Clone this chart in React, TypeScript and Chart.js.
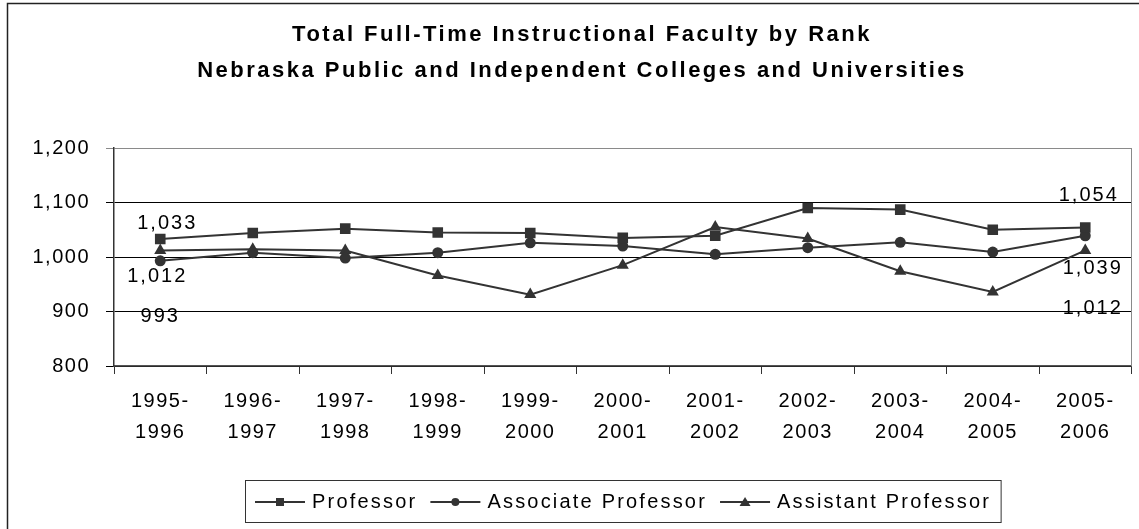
import React, { useEffect, useRef } from 'react';
import { Chart, registerables } from 'chart.js';

Chart.register(...registerables);

const titleLines = [
  'Total Full-Time Instructional Faculty by Rank',
  'Nebraska Public and Independent Colleges and Universities',
];
const categories = [
  ['1995-', '1996'], ['1996-', '1997'], ['1997-', '1998'], ['1998-', '1999'],
  ['1999-', '2000'], ['2000-', '2001'], ['2001-', '2002'], ['2002-', '2003'],
  ['2003-', '2004'], ['2004-', '2005'], ['2005-', '2006'],
];
const seriesNames = ['Professor', 'Associate Professor', 'Assistant Professor'];
const professor = [1033, 1044, 1052, 1045, 1044, 1035, 1039, 1090, 1087, 1050, 1054];
const associate = [993, 1008, 998, 1008, 1026, 1020, 1005, 1017, 1027, 1009, 1039];
const assistant = [1012, 1014, 1012, 966, 931, 985, 1055, 1034, 974, 936, 1012];
const yMin = 800;
const yMax = 1200;
const yStep = 100;
const labelledPoints = [0, 10];

// presentation
const FONT = '"Liberation Sans", Arial, sans-serif';
const INK = '#333333';
const pointStyles = ['rect', 'circle', 'triangle'];
const pointRadii = [7.5, 5.5, 7];
const labelOffsets = [
  [[7, -16], [3.5, -32]],
  [[0, 56], [7.5, 33]],
  [[-3, 26], [7.5, 58]],
];
const TICK_SPACING = '1.5px';

const fmt = (v: number) => v.toLocaleString('en-US');

function setSpacing(chart: any) {
  try { chart.ctx.letterSpacing = TICK_SPACING; } catch (e) { /* ignore */ }
}

const spacingPlugin = {
  id: 'spacing',
  beforeInit: setSpacing,
  beforeUpdate: setSpacing,
  beforeLayout: setSpacing,
  beforeDraw: setSpacing,
  resize: setSpacing,
};

const framePlugin = {
  id: 'frame',
  beforeDraw(chart: any) {
    const ctx = chart.ctx;
    ctx.save();
    ctx.fillStyle = '#ffffff';
    ctx.fillRect(0, 0, chart.width, chart.height);
    ctx.strokeStyle = '#222222';
    ctx.lineWidth = 1.5;
    ctx.strokeRect(7.5, 3.5, chart.width + 50, chart.height + 50);
    ctx.restore();
  },
  afterDatasetsDraw(chart: any) {
    const ctx = chart.ctx;
    const a = chart.chartArea;
    ctx.save();
    ctx.strokeStyle = '#8a8a8a';
    ctx.lineWidth = 1;
    ctx.beginPath();
    ctx.moveTo(Math.round(a.right) - 0.5, a.top);
    ctx.lineTo(Math.round(a.right) - 0.5, a.bottom);
    ctx.stroke();
    ctx.restore();
  },
};

const titlePlugin = {
  id: 'boxTitle',
  afterDraw(chart: any) {
    const ctx = chart.ctx;
    ctx.save();
    try { ctx.letterSpacing = '2.5px'; } catch (e) { /* ignore */ }
    ctx.font = `bold 22px ${FONT}`;
    ctx.fillStyle = '#000000';
    ctx.textAlign = 'center';
    ctx.textBaseline = 'middle';
    const cx = 582;
    titleLines.forEach((line, i) => {
      ctx.fillText(line, cx, 35 + i * 36);
    });
    ctx.restore();
  },
};

const dataLabelPlugin = {
  id: 'dataLabels',
  afterDatasetsDraw(chart: any) {
    const ctx = chart.ctx;
    ctx.save();
    try { ctx.letterSpacing = '2px'; } catch (e) { /* ignore */ }
    ctx.font = `20px ${FONT}`;
    ctx.fillStyle = '#000000';
    ctx.textAlign = 'center';
    ctx.textBaseline = 'middle';
    chart.data.datasets.forEach((ds: any, di: number) => {
      const meta = chart.getDatasetMeta(di);
      labelledPoints.forEach((idx, k) => {
        const el = meta.data[idx];
        if (!el) return;
        const [dx, dy] = labelOffsets[di][k];
        ctx.fillText(fmt(ds.data[idx]), el.x + dx, el.y + dy);
      });
    });
    ctx.restore();
  },
};

function drawMarker(ctx: CanvasRenderingContext2D, style: string, x: number, y: number) {
  ctx.beginPath();
  if (style === 'rect') {
    ctx.rect(x - 4, y - 4, 8, 8);
  } else if (style === 'circle') {
    ctx.arc(x, y, 4, 0, Math.PI * 2);
  } else {
    ctx.moveTo(x, y - 5);
    ctx.lineTo(x + 5.5, y + 4);
    ctx.lineTo(x - 5.5, y + 4);
    ctx.closePath();
  }
  ctx.fill();
}

const legendPlugin = {
  id: 'boxLegend',
  afterDraw(chart: any) {
    const ctx = chart.ctx;
    ctx.save();
    try { ctx.letterSpacing = '2.2px'; } catch (e) { /* ignore */ }
    ctx.font = `20px ${FONT}`;
    const top = 480.5;
    const h = 42;
    const cy = top + h / 2 + 0.5;
    const left = 245.5;
    let x = left + 9.5;
    chart.data.datasets.forEach((ds: any, i: number) => {
      ctx.strokeStyle = INK;
      ctx.lineWidth = 2;
      ctx.beginPath();
      ctx.moveTo(x, cy);
      ctx.lineTo(x + 50, cy);
      ctx.stroke();
      ctx.fillStyle = INK;
      drawMarker(ctx, pointStyles[i], x + 25, cy);
      x += 57;
      ctx.fillStyle = '#000000';
      ctx.textAlign = 'left';
      ctx.textBaseline = 'middle';
      ctx.fillText(ds.label, x, cy);
      x += ctx.measureText(ds.label).width + 13;
    });
    const right = x - 3;
    ctx.strokeStyle = INK;
    ctx.lineWidth = 1;
    ctx.strokeRect(left, top, right - left, h);
    ctx.restore();
  },
};

export default function App() {
  const ref = useRef<HTMLCanvasElement>(null);
  useEffect(() => {
    if (!ref.current) return;
    const seriesData = [professor, associate, assistant];
    const chart = new Chart(ref.current, {
      type: 'line',
      data: {
        labels: categories as any,
        datasets: seriesNames.map((name, i) => ({
          label: name,
          data: seriesData[i],
          borderColor: INK,
          backgroundColor: INK,
          borderWidth: 2,
          pointStyle: pointStyles[i] as any,
          pointRadius: pointRadii[i],
          pointBackgroundColor: INK,
          pointBorderColor: INK,
          pointBorderWidth: 0,
          tension: 0,
          fill: false,
        })),
      },
      options: {
        responsive: false,
        animation: false,
        events: [],
        layout: { padding: { left: 0, right: 2, top: 148, bottom: 0 } },
        plugins: {
          legend: { display: false },
          tooltip: { enabled: false },
          title: { display: false },
        },
        scales: {
          x: {
            type: 'category',
            offset: true,
            grid: {
              display: true,
              offset: true,
              drawOnChartArea: false,
              drawTicks: true,
              tickLength: 8,
              color: INK,
              lineWidth: 1,
            },
            border: { display: true, color: '#555555', width: 1.5 },
            ticks: {
              color: '#000000',
              font: { family: FONT, size: 20, lineHeight: 1.55 },
              padding: 12,
              maxRotation: 0,
              autoSkip: false,
            },
            afterFit(scale: any) { scale.height = 163; },
          },
          y: {
            min: yMin,
            max: yMax,
            ticks: {
              stepSize: yStep,
              color: '#000000',
              font: { family: FONT, size: 20 },
              padding: 16,
              callback: (v: any) => fmt(Number(v)),
            },
            grid: {
              color: (c: any) => (c.tick && c.tick.value === yMax ? '#8a8a8a' : '#000000'),
              lineWidth: 1,
              tickLength: 8,
              drawTicks: true,
            },
            border: { display: true, color: INK, width: 1.5 },
            afterFit(scale: any) { scale.width = 114; },
          },
        },
      },
      plugins: [spacingPlugin, framePlugin, dataLabelPlugin, titlePlugin, legendPlugin],
    } as any);
    return () => chart.destroy();
  }, []);
  return (
    <div style={{ position: 'fixed', left: 0, top: 0, width: 1139, height: 529, background: '#fff' }}>
      <canvas ref={ref} width={1139} height={529} style={{ display: 'block' }} />
    </div>
  );
}
